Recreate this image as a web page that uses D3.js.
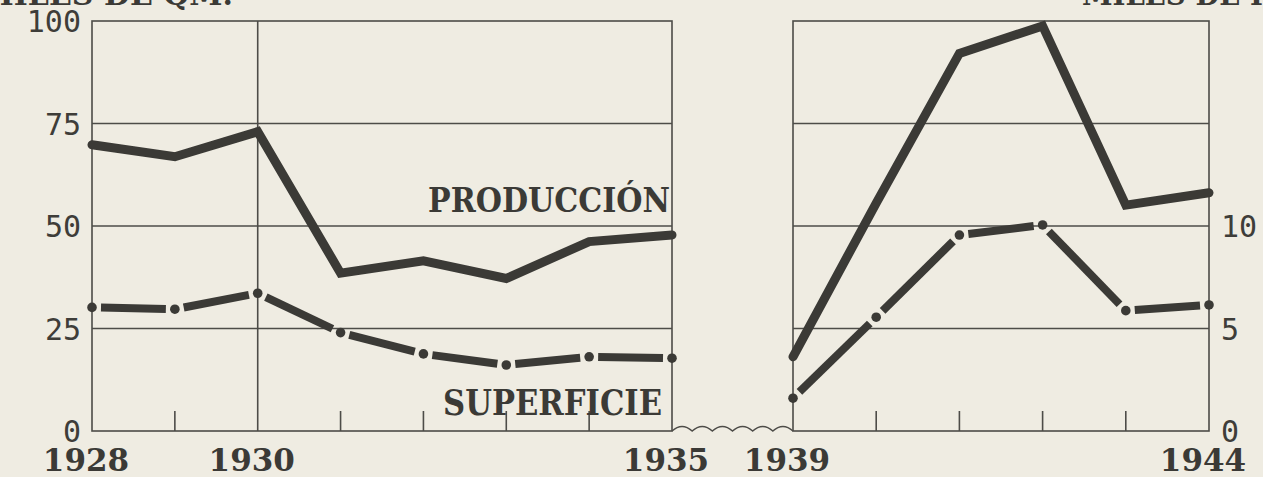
<!DOCTYPE html>
<html>
<head>
<meta charset="utf-8">
<script src="https://cdn.jsdelivr.net/npm/d3@7"></script>
<style>
  html, body { margin: 0; padding: 0; background: #efece2; }
  svg { display: block; }
</style>
</head>
<body id="body">
<svg></svg>
<script>
var width = 1263;
var height = 477;

// data
var yearsA = [1928, 1929, 1930, 1931, 1932, 1933, 1934, 1935];
var prodA = [69.8, 66.9, 73.0, 38.5, 41.5, 37.2, 46.2, 47.8];   // miles de Qm.
var supA = [6.03, 5.94, 6.72, 4.8, 3.76, 3.22, 3.62, 3.55];      // miles de Ha.

var yearsB = [1939, 1940, 1941, 1942, 1943, 1944];
var prodB = [18.1, 55.6, 92.1, 98.8, 55.1, 58.1];
var supB = [1.6, 5.55, 9.56, 10.05, 5.87, 6.15];

var leftTicks = [0, 25, 50, 75, 100];
var rightTicks = [0, 5, 10];
var gridValues = [25, 50, 75];
var yearLabels = [1928, 1930, 1935, 1939, 1944];

var ink = "#3b3a36";
var frameInk = "#4d4c48";

var svg = d3.select("svg")
  .attr("width", width)
  .attr("height", height);

var xA = d3.scaleLinear().domain([1928, 1935]).range([92, 672]);
var xB = d3.scaleLinear().domain([1939, 1944]).range([793, 1209]);
var yL = d3.scaleLinear().domain([0, 100]).range([431, 21]);
var yR = d3.scaleLinear().domain([0, 20]).range([431, 21]);

var panels = [
  {x: xA, years: yearsA, prod: prodA, sup: supA, fullLines: [1930]},
  {x: xB, years: yearsB, prod: prodB, sup: supB, fullLines: []}
];

// unit titles, cut by the top edge
svg.append("text")
  .attr("x", 233).attr("y", 5)
  .attr("text-anchor", "end")
  .attr("font-family", "DejaVu Serif").attr("font-weight", "bold")
  .attr("font-size", 30).attr("fill", ink)
  .text("MILES DE QM.");
svg.append("text")
  .attr("x", 1082).attr("y", 5)
  .attr("font-family", "DejaVu Serif").attr("font-weight", "bold")
  .attr("font-size", 30).attr("fill", ink)
  .attr("textLength", 225).attr("lengthAdjust", "spacingAndGlyphs")
  .text("MILES DE HA.");

var frame = svg.append("g")
  .attr("fill", "none")
  .attr("stroke", frameInk)
  .attr("stroke-width", 1.6);

panels.forEach(function (p) {
  var x0 = p.x.range()[0], x1 = p.x.range()[1];
  frame.append("rect")
    .attr("x", x0).attr("y", yL(100))
    .attr("width", x1 - x0).attr("height", yL(0) - yL(100));

  frame.selectAll(null)
    .data(gridValues)
    .enter().append("line")
    .attr("x1", x0).attr("x2", x1)
    .attr("y1", function (d) { return yL(d); })
    .attr("y2", function (d) { return yL(d); });

  frame.selectAll(null)
    .data(p.fullLines)
    .enter().append("line")
    .attr("x1", function (d) { return p.x(d); })
    .attr("x2", function (d) { return p.x(d); })
    .attr("y1", yL(100)).attr("y2", yL(0));

  var inner = p.years.slice(1, -1).filter(function (d) {
    return p.fullLines.indexOf(d) < 0;
  });
  frame.selectAll(null)
    .data(inner)
    .enter().append("line")
    .attr("x1", function (d) { return p.x(d); })
    .attr("x2", function (d) { return p.x(d); })
    .attr("y1", yL(0) - 20).attr("y2", yL(0));
});

// wavy break between 1935 and 1939
var wx0 = xA(1935), wx1 = xB(1939), wy = yL(0);
var waves = 6, step = (wx1 - wx0) / waves;
var wave = d3.path();
wave.moveTo(wx0, wy);
for (var i = 0; i < waves; i++) {
  wave.quadraticCurveTo(wx0 + step * (i + 0.5), wy - 9, wx0 + step * (i + 1), wy);
}
frame.append("path").attr("d", wave.toString());

// axes labels
var axisL = svg.append("g")
  .attr("transform", "translate(81,0)")
  .call(d3.axisLeft(yL).tickValues(leftTicks).tickSize(0).tickPadding(0));
var axisR = svg.append("g")
  .attr("transform", "translate(1221,0)")
  .call(d3.axisRight(yR).tickValues(rightTicks).tickSize(0).tickPadding(0));
[axisL, axisR].forEach(function (a) {
  a.select(".domain").remove();
  a.selectAll("text")
    .attr("font-family", "DejaVu Sans Mono")
    .attr("font-size", 30)
    .attr("fill", "#3e3d39")
    .attr("dy", "0.36em");
});

// years under the axis
svg.append("g")
  .selectAll("text")
  .data(yearLabels)
  .enter().append("text")
  .attr("x", function (d) { return (d < 1936 ? xA(d) : xB(d)) - 6; })
  .attr("y", 471)
  .attr("text-anchor", "middle")
  .attr("font-family", "DejaVu Serif").attr("font-weight", "bold")
  .attr("font-size", 31).attr("fill", ink)
  .text(function (d) { return d; });

// production lines
var marks = svg.append("g");
panels.forEach(function (p) {
  var pts = p.years.map(function (d, i) { return [p.x(d), yL(p.prod[i])]; });
  marks.append("path")
    .attr("d", d3.line()(pts))
    .attr("fill", "none")
    .attr("stroke", ink)
    .attr("stroke-width", 9)
    .attr("stroke-linejoin", "miter")
    .attr("stroke-linecap", "round");

  // superficie: dash between points, dot on each point
  var spts = p.years.map(function (d, i) { return [p.x(d), yR(p.sup[i])]; });
  var gap = 9;
  for (var k = 0; k < spts.length - 1; k++) {
    var a = spts[k], b = spts[k + 1];
    var dx = b[0] - a[0], dy = b[1] - a[1];
    var len = Math.sqrt(dx * dx + dy * dy);
    var ux = dx / len, uy = dy / len;
    marks.append("line")
      .attr("x1", a[0] + ux * gap).attr("y1", a[1] + uy * gap)
      .attr("x2", b[0] - ux * gap).attr("y2", b[1] - uy * gap)
      .attr("stroke", ink)
      .attr("stroke-width", 8);
  }
  marks.selectAll(null)
    .data(spts)
    .enter().append("circle")
    .attr("cx", function (d) { return d[0]; })
    .attr("cy", function (d) { return d[1]; })
    .attr("r", 4.8)
    .attr("fill", ink);
});

// series names
svg.append("text")
  .attr("x", xA(1935) - 2).attr("y", yL(50) - 14)
  .attr("text-anchor", "end")
  .attr("font-family", "DejaVu Serif").attr("font-weight", "bold")
  .attr("font-size", 33).attr("fill", ink)
  .attr("textLength", 242).attr("lengthAdjust", "spacingAndGlyphs")
  .text("PRODUCCIÓN");
svg.append("text")
  .attr("x", xA(1935) - 10).attr("y", yL(0) - 16)
  .attr("text-anchor", "end")
  .attr("font-family", "DejaVu Serif").attr("font-weight", "bold")
  .attr("font-size", 36).attr("fill", ink)
  .attr("textLength", 219).attr("lengthAdjust", "spacingAndGlyphs")
  .text("SUPERFICIE");
</script>
</body>
</html>
